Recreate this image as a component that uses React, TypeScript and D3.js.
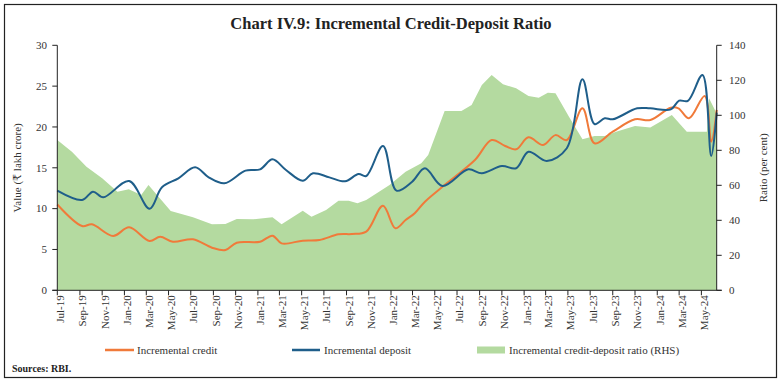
import * as d3 from "d3";
import React from "react";

// values (₹ lakh crore for credit/deposit, per cent for the ratio)
const credit: [string, number][] = [
	["2019-07-01", 10.5], ["2019-09-07", 7.87], ["2019-10-04", 8.08], ["2019-12-01", 6.65],
	["2020-01-14", 7.71], ["2020-03-10", 6.04], ["2020-04-08", 6.56], ["2020-05-13", 5.95],
	["2020-07-07", 6.24], ["2020-08-28", 5.22], ["2020-10-04", 4.93], ["2020-11-04", 5.83],
	["2021-01-07", 5.95], ["2021-02-10", 6.69], ["2021-03-07", 5.75], ["2021-05-04", 6.08],
	["2021-06-19", 6.16], ["2021-08-10", 6.85], ["2021-09-16", 6.89], ["2021-10-25", 7.18],
	["2021-12-10", 10.35], ["2022-01-13", 7.59], ["2022-02-10", 8.61], ["2022-03-07", 9.43],
	["2022-04-04", 10.85], ["2022-05-28", 12.89], ["2022-08-19", 15.95], ["2022-10-04", 18.4],
	["2022-11-10", 17.67], ["2022-12-10", 17.26], ["2023-01-13", 18.73], ["2023-02-22", 17.79],
	["2023-03-28", 19.0], ["2023-04-28", 18.4], ["2023-06-10", 22.28], ["2023-07-13", 18.0],
	["2023-09-01", 19.42], ["2023-11-01", 20.94], ["2023-12-13", 20.85], ["2024-02-07", 22.36],
	["2024-02-28", 22.28], ["2024-03-28", 21.06], ["2024-05-10", 23.79], ["2024-05-28", 18.2],
	["2024-06-12", 22.08],
];

const deposit: [string, number][] = [
	["2019-07-01", 12.2], ["2019-09-07", 11.06], ["2019-10-07", 12.08], ["2019-11-04", 11.39],
	["2020-01-14", 13.38], ["2020-03-10", 9.99], ["2020-04-13", 12.61], ["2020-05-28", 13.71],
	["2020-07-13", 15.06], ["2020-08-19", 13.83], ["2020-10-01", 13.1], ["2020-11-28", 14.65],
	["2021-01-07", 14.81], ["2021-02-10", 16.04], ["2021-03-19", 14.73], ["2021-05-04", 13.42],
	["2021-06-01", 14.33], ["2021-07-16", 13.83], ["2021-08-28", 13.35], ["2021-10-04", 14.24],
	["2021-10-25", 14.0], ["2021-12-10", 17.67], ["2022-01-16", 12.2], ["2022-02-28", 13.3],
	["2022-04-04", 14.94], ["2022-05-22", 12.77], ["2022-08-01", 14.81], ["2022-09-07", 14.33],
	["2022-11-01", 15.22], ["2022-12-10", 14.94], ["2023-01-13", 16.97], ["2023-03-04", 15.83],
	["2023-04-28", 17.39], ["2023-06-10", 25.84], ["2023-07-13", 20.36], ["2023-08-10", 21.06],
	["2023-09-01", 20.94], ["2023-11-07", 22.28], ["2023-12-13", 22.28], ["2024-02-07", 22.16],
	["2024-03-01", 23.22], ["2024-03-25", 23.2], ["2024-05-04", 26.36], ["2024-05-28", 16.44],
	["2024-06-12", 21.75],
];

const ratio: [string, number][] = [
	["2019-07-01", 85.9], ["2019-08-10", 79.2], ["2019-09-19", 70.6], ["2019-11-01", 64],
	["2019-12-13", 56.3], ["2020-01-13", 57.7], ["2020-02-16", 54.5], ["2020-03-07", 60.2],
	["2020-05-07", 45.3], ["2020-07-07", 41.7], ["2020-08-28", 37.7], ["2020-10-04", 37.9],
	["2020-11-04", 40.7], ["2020-12-19", 40.6], ["2021-02-10", 41.7], ["2021-03-07", 37.7],
	["2021-05-04", 45.5], ["2021-05-28", 42.1], ["2021-07-07", 45.9], ["2021-08-10", 51.2],
	["2021-09-07", 51.2], ["2021-10-01", 49.7], ["2021-10-25", 51.6], ["2021-12-28", 60.2],
	["2022-02-10", 67.8], ["2022-03-25", 72.6], ["2022-04-13", 77.3], ["2022-05-28", 102.5],
	["2022-07-13", 102.5], ["2022-08-10", 105.9], ["2022-09-07", 117.3], ["2022-10-04", 123],
	["2022-11-04", 117.7], ["2022-12-10", 115.4], ["2023-01-13", 111], ["2023-02-10", 110],
	["2023-03-07", 112.9], ["2023-03-28", 112.6], ["2023-05-04", 99.2], ["2023-06-10", 86.3],
	["2023-07-13", 88.2], ["2023-08-10", 88.2], ["2023-09-10", 90.6], ["2023-11-01", 93.9],
	["2023-12-13", 93.1], ["2024-02-10", 100.2], ["2024-03-22", 90.6], ["2024-05-16", 90.6],
	["2024-05-22", 109.7], ["2024-06-12", 101],
];

const leftTicks = [0, 5, 10, 15, 20, 25, 30];
const rightTicks = [0, 20, 40, 60, 80, 100, 120, 140];

const parse = d3.timeParse("%Y-%m-%d");
const fmt = d3.timeFormat("%b-%y");
const FONT = "'Liberation Serif', 'DejaVu Serif', serif";

export default function App() {
	const margin = { top: 45.3, left: 57.3, right: 716.7, bottom: 290.3 };
	const start = parse("2019-07-01")!;
	const end = parse("2024-06-12")!;

	const x = d3.scaleTime().domain([start, end]).range([margin.left, margin.right]);
	const yL = d3.scaleLinear().domain([0, 30]).range([margin.bottom, margin.top]);
	const yR = d3.scaleLinear().domain([0, 140]).range([margin.bottom, margin.top]);

	const xTicks = d3.timeMonth.every(2)!.range(start, end);

	const line = d3
		.line<[string, number]>()
		.x((d) => x(parse(d[0])!))
		.y((d) => yL(d[1]))
		.curve(d3.curveCatmullRom.alpha(0.5));

	const area = d3
		.area<[string, number]>()
		.x((d) => x(parse(d[0])!))
		.y0(yR(0))
		.y1((d) => yR(d[1]));

	const orange = "#F07A3A";
	const blue = "#1F5E8A";
	const green = "#B4DAA0";

	return (
		<svg
			width={782}
			height={384}
			style={{ position: "absolute", left: 0, top: 0, background: "#fff" }}
			fontFamily={FONT}
		>
			<rect x={4.5} y={4.5} width={772} height={373} fill="none" stroke="#222" strokeWidth={1.2} />
			<text x={391} y={29} textAnchor="middle" fontSize={16.5} fontWeight="bold" fill="#222">
				Chart IV.9: Incremental Credit-Deposit Ratio
			</text>

			<path d={area(ratio)!} fill={green} />
			<path d={line(credit)!} fill="none" stroke={orange} strokeWidth={2} />
			<path d={line(deposit)!} fill="none" stroke={blue} strokeWidth={2} />

			{/* axes */}
			<g stroke="#222" strokeWidth={1}>
				<line x1={margin.left} x2={margin.left} y1={margin.top} y2={margin.bottom} />
				<line x1={margin.right} x2={margin.right} y1={margin.top} y2={margin.bottom} />
				<line x1={margin.left - 5} x2={margin.right + 5} y1={margin.bottom} y2={margin.bottom} />
			</g>

			{leftTicks.map((t) => (
				<g key={"l" + t}>
					<line x1={margin.left - 5} x2={margin.left} y1={yL(t)} y2={yL(t)} stroke="#222" />
					<text x={47} y={yL(t)} dy="0.35em" textAnchor="end" fontSize={11} fill="#333">
						{t}
					</text>
				</g>
			))}
			{rightTicks.map((t) => (
				<g key={"r" + t}>
					<line x1={margin.right} x2={margin.right + 5} y1={yR(t)} y2={yR(t)} stroke="#222" />
					<text x={729} y={yR(t)} dy="0.35em" textAnchor="start" fontSize={11} fill="#333">
						{t}
					</text>
				</g>
			))}
			{xTicks.map((d) => (
				<g key={d.toISOString()}>
					<line x1={x(d)} x2={x(d)} y1={margin.bottom} y2={margin.bottom + 5} stroke="#222" />
					<text
						transform={`translate(${x(d) + 2.6},${margin.bottom + 5}) rotate(-90)`}
						dy="0.35em"
						textAnchor="end"
						fontSize={11}
						fill="#333"
					>
						{fmt(d)}
					</text>
				</g>
			))}

			<text
				transform={`translate(17,${(margin.top + margin.bottom) / 2}) rotate(-90)`}
				textAnchor="middle"
				dy="0.35em"
				fontSize={11}
				fill="#333"
			>
				Value (₹ lakh crore)
			</text>
			<text
				transform={`translate(763,${(margin.top + margin.bottom) / 2}) rotate(-90)`}
				textAnchor="middle"
				dy="0.35em"
				fontSize={11}
				fill="#333"
			>
				Ratio (per cent)
			</text>

			{/* legend */}
			<g fontSize={11} fill="#333">
				<line x1={105} x2={134} y1={350} y2={350} stroke={orange} strokeWidth={2.5} />
				<text x={137} y={350} dy="0.35em">Incremental credit</text>
				<line x1={292} x2={320} y1={350} y2={350} stroke={blue} strokeWidth={2.5} />
				<text x={324} y={350} dy="0.35em">Incremental deposit</text>
				<rect x={477} y={346.5} width={28} height={7} fill={green} />
				<text x={509} y={350} dy="0.35em">Incremental credit-deposit ratio (RHS)</text>
			</g>
			<text x={12} y={368} dy="0.35em" fontSize={10} fontWeight="bold" fill="#222">
				Sources: RBI.
			</text>
		</svg>
	);
}
